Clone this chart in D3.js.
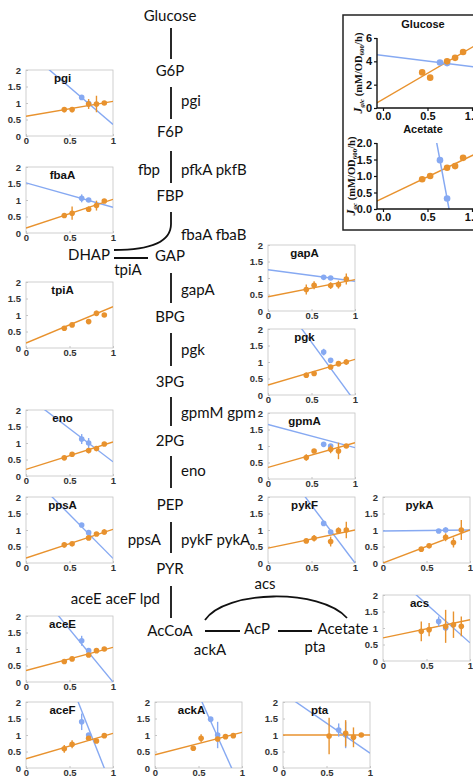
<!DOCTYPE html>
<html><head><meta charset="utf-8">
<script src="https://cdn.jsdelivr.net/npm/d3@7"></script>
<style>body{margin:0;background:#fff} svg{display:block}</style>
</head><body>
<svg id="c" width="473" height="779"></svg>
<script>
// ---------------- DATA ----------------
const xTickVals = [0, 0.5, 1];
const yTickVals = [0, 0.5, 1, 1.5, 2];
const xOrange = [0.44, 0.53, 0.72, 0.81, 0.9];
const xBlue = [0.64, 0.72];

const panelNames = ["pgi","fbaA","tpiA","eno","ppsA","aceE","aceF","gapA","pgk","gpmA","pykF","pykA","acs","ackA","pta"];
// fitted lines: [value at x=0, value at x=1]
const orangeFit = [[0.60,1.05],[0.15,1.02],[0.15,1.25],[0.20,1.03],[0.15,1.02],[0.35,1.05],[0.28,1.05],
  [0.43,0.95],[0.30,1.08],[0.35,1.10],[0.45,1.00],[0.00,1.00],[0.70,1.25],[0.40,1.08],[1.00,1.00]];
const blueFit = [[2.61,0.35],[1.52,0.78],null,[2.44,0.43],[2.8,0.14],[3.2,0.0],[6.0,-0.67],
  [1.25,0.90],[3.4,-0.2],[1.65,0.95],[3.5,0.0],[0.97,1.0],[2.9,0.55],[5.17,-0.7],[2.27,0.45]];
const orangeY = [[0.80,0.80,0.97,0.97,1.00],[0.53,0.60,0.72,0.83,0.97],[0.60,0.70,0.80,1.05,1.00],
  [0.55,0.66,0.77,0.83,0.97],[0.55,0.58,0.76,0.88,0.94],[0.62,0.70,0.82,0.95,1.00],[0.58,0.72,0.90,0.82,0.98],
  [0.65,0.78,0.77,0.80,0.97],[0.60,0.65,0.85,0.95,1.00],[0.65,0.85,0.90,0.85,1.00],[0.67,0.75,0.65,0.98,1.00],
  [0.42,0.52,0.78,0.62,1.00],[0.90,0.95,1.05,1.10,1.05],[0.60,0.90,0.88,0.95,0.98],[null,0.97,1.05,0.93,1.00]];
const orangeErr = [[0.08,0.08,0.15,0.25,0.05],[0.03,0.20,0.08,0.15,0.05],[0.05,0.05,0.05,0.08,0.05],
  [0.05,0.05,0.08,0.05,0.06],[0.08,0.05,0.05,0.05,0.08],[0.06,0.05,0.05,0.05,0.05],[0.12,0.12,0.06,0.05,0.05],
  [0.15,0.12,0.10,0.12,0.17],[0.08,0.06,0.06,0.08,0.08],[0.10,0.05,0.12,0.25,0.05],[0.05,0.10,0.15,0.10,0.25],
  [0.03,0.03,0.12,0.15,0.30],[0.30,0.20,0.50,0.40,0.30],[0.05,0.12,0.06,0.04,0.06],[0,0.55,0.40,0.30,0.03]];
const blueY = [[1.17,0.98],[1.05,1.00],null,[1.12,1.00],[1.15,0.92],[1.25,0.95],[1.40,1.00],
  [1.02,1.00],[1.30,1.05],[1.05,1.00],[1.20,0.94],[0.97,1.00],[1.20,1.00],[1.48,1.00],[1.15,1.00]];
const blueErr = [[0.05,0.05],[0.12,0.05],null,[0.15,0.15],[0.06,0.05],[0.15,0.06],[0.25,0.05],
  [0.06,0.05],[0.10,0.05],[0.05,0.05],[0.05,0.05],[0.06,0.08],[0.15,0.10],[0.05,0.40],[0.20,0.40]];

// inset data
const glcOrangeY = [3.05, 2.6, 4.0, 4.3, 4.8];
const glcBlueY = [3.9, 3.85];
const glcOrangeFit = [0.75, 5.2];
const glcBlueFit = [4.5, 3.55];
const glcYTicks = [0, 2, 4, 6];
const acOrangeY = [0.9, 1.0, 1.25, 1.3, 1.55];
const acBlueY = [1.48, 0.32];
const acOrangeFit = [0.33, 1.62];
const acBlueFit = [10.76, -3.74];
const acYTicks = [0, 0.5, 1.0, 1.5, 2.0];
const insetXTicks = [0, 0.5, 1.0];

// pathway labels
const metabolites = ["Glucose","G6P","F6P","FBP","GAP","BPG","3PG","2PG","PEP","PYR","AcCoA"];
const enzymesRight = ["pgi","pfkA pkfB","fbaA fbaB","gapA","pgk","gpmM gpm","eno","pykF pykA"];

// ---------------- LAYOUT ----------------
const ORANGE = "#E8922E", BLUE = "#86A9F2";
const svg = d3.select("#c");
const PW = 87, PH = 66;
const panelPos = {pgi:[26,70],fbaA:[26,167],tpiA:[26,282],eno:[26,410],ppsA:[26,497],aceE:[26,616],aceF:[26,702],
  gapA:[268,245],pgk:[268,329],gpmA:[268,413],pykF:[268,497],pykA:[383,497],acs:[383,595],ackA:[155,702],pta:[283,702]};

panelNames.forEach((name, i) => {
  const [px, py] = panelPos[name];
  const g = svg.append("g").attr("transform", `translate(${px},${py})`);
  const x = d3.scaleLinear().domain([0,1]).range([0,PW]);
  const y = d3.scaleLinear().domain([0,2]).range([PH,0]);
  const cid = "clip" + i;
  g.append("clipPath").attr("id", cid).append("rect").attr("width", PW).attr("height", PH);
  g.append("rect").attr("width", PW).attr("height", PH).attr("fill","#fff").attr("stroke","#c4c4c4").attr("stroke-width",0.8);
  const ax = g.append("g").attr("transform",`translate(0,${PH})`).call(d3.axisBottom(x).tickValues(xTickVals).tickSizeInner(-2).tickSizeOuter(0).tickPadding(1.5).tickFormat(d3.format("")));
  const ay = g.append("g").call(d3.axisLeft(y).tickValues(yTickVals).tickSizeInner(-2).tickSizeOuter(0).tickPadding(5).tickFormat(d3.format("")));
  [ax, ay].forEach(a => {
    a.select(".domain").remove();
    a.selectAll("line").attr("stroke","#c4c4c4");
    a.selectAll("text").attr("font-family","Liberation Sans, Arial").attr("font-weight","bold").attr("font-size","9.5px").attr("fill","#333");
  });
  const pl = g.append("g").attr("clip-path",`url(#${cid})`);
  const line = d3.line().x(d => x(d[0])).y(d => y(d[1]));
  const bf = blueFit[i], of = orangeFit[i];
  if (bf) pl.append("path").attr("d", line([[0,bf[0]],[1,bf[1]]])).attr("stroke",BLUE).attr("stroke-width",1.4).attr("fill","none");
  pl.append("path").attr("d", line([[0,of[0]],[1,of[1]]])).attr("stroke",ORANGE).attr("stroke-width",1.4).attr("fill","none");
  const drawPts = (xs, ys, es, col) => {
    xs.forEach((xv, k) => {
      const yv = ys[k]; if (yv == null) return;
      const e = es[k];
      g.append("line").attr("x1",x(xv)).attr("x2",x(xv)).attr("y1",y(yv-e)).attr("y2",y(yv+e)).attr("stroke",col).attr("stroke-width",1.4);
      g.append("circle").attr("cx",x(xv)).attr("cy",y(yv)).attr("r",2.8).attr("fill",col);
    });
  };
  if (blueY[i]) drawPts(xBlue, blueY[i], blueErr[i], BLUE);
  drawPts(xOrange, orangeY[i], orangeErr[i], ORANGE);
  g.append("text").attr("x", PW*0.42).attr("y", 11.5).attr("text-anchor","middle")
    .attr("font-family","Liberation Sans, Arial").attr("font-weight","bold").attr("font-size","11.5px").attr("fill","#111").text(name);
});

// ---------------- PATHWAY ----------------
const F = "Lato, 'Open Sans', sans-serif";
const pt = (t, x, y, anchor="middle") => svg.append("text").attr("x",x).attr("y",y).attr("text-anchor",anchor)
  .attr("font-family",F).attr("font-size","15px").attr("fill","#111").attr("dominant-baseline","middle").text(t);
const metY = [17,72,133,197,257,318,383,442,506,570,632];
metabolites.forEach((m,k) => pt(m, 170, metY[k]));
const segs = [[28,59],[87,119],[151,183],[273,303],[333,366],[397,426],[456,488],[522,553],[586,618]];
segs.forEach(s => svg.append("line").attr("x1",171).attr("x2",171).attr("y1",s[0]).attr("y2",s[1]).attr("stroke","#111").attr("stroke-width",1.8));
const rY = [102,171,236,291,351,414,472,541];
enzymesRight.forEach((e,k) => pt(e, 181, rY[k], "start"));
pt("fbp", 160, 171, "end");
pt("ppsA", 161, 541, "end");
pt("aceE aceF lpd", 160, 600, "end");
svg.append("path").attr("d","M171,212 L171,224 Q171,250 114,250").attr("fill","none").attr("stroke","#111").attr("stroke-width",1.8);
pt("DHAP", 89, 256);
svg.append("line").attr("x1",114).attr("x2",148).attr("y1",258).attr("y2",258).attr("stroke","#111").attr("stroke-width",1.8);
pt("tpiA", 128, 271);
pt("AcP", 257, 630);
pt("Acetate", 343, 630);
svg.append("line").attr("x1",205).attr("x2",240).attr("y1",631).attr("y2",631).attr("stroke","#111").attr("stroke-width",1.8);
svg.append("line").attr("x1",278).attr("x2",312).attr("y1",631).attr("y2",631).attr("stroke","#111").attr("stroke-width",1.8);
pt("ackA", 210, 651);
pt("pta", 315, 648);
pt("acs", 265, 585);
svg.append("path").attr("d","M205,620 C225,590 320,588 347,618").attr("fill","none").attr("stroke","#111").attr("stroke-width",1.8);

// ---------------- INSET ----------------
svg.append("rect").attr("x",343).attr("y",15).attr("width",140).attr("height",215).attr("fill","none").attr("stroke","#222").attr("stroke-width",1.5);
function inset(top, bottom, ymax, yTicks, fmt, oY, bY, oFit, bFit, title, labelSub, labelX) {
  const x = d3.scaleLinear().domain([0,1]).range([383,472]);
  const y = d3.scaleLinear().domain([0,ymax]).range([bottom, top]);
  const g = svg.append("g");
  const cid = "ic" + title;
  g.append("clipPath").attr("id",cid).append("rect").attr("x",377).attr("y",top).attr("width",96).attr("height",bottom-top);
  const pl = g.append("g").attr("clip-path",`url(#${cid})`);
  const line = d3.line().x(d => x(d[0])).y(d => y(d[1]));
  const fitPts = f => [[-0.07, f[0] + (f[1]-f[0])*-0.07],[1.05, f[0] + (f[1]-f[0])*1.05]];
  pl.append("path").attr("d", line(fitPts(oFit))).attr("stroke",ORANGE).attr("stroke-width",1.5).attr("fill","none");
  pl.append("path").attr("d", line(fitPts(bFit))).attr("stroke",BLUE).attr("stroke-width",1.5).attr("fill","none");
  xBlue.forEach((xv,k) => g.append("circle").attr("cx",x(xv)).attr("cy",y(bY[k])).attr("r",3.3).attr("fill",BLUE));
  xOrange.forEach((xv,k) => g.append("circle").attr("cx",x(xv)).attr("cy",y(oY[k])).attr("r",3.3).attr("fill",ORANGE));
  const ay = g.append("g").attr("transform","translate(377,0)").call(d3.axisLeft(y).tickValues(yTicks).tickSize(3).tickPadding(2).tickFormat(fmt));
  const ax = g.append("g").attr("transform",`translate(0,${bottom})`).call(d3.axisBottom(x).tickValues(insetXTicks).tickSize(3).tickPadding(1).tickFormat(d3.format(".1f")));
  [ax, ay].forEach(a => {
    a.select(".domain").attr("stroke","#111").attr("stroke-width",1.4);
    a.selectAll("line").attr("stroke","#111").attr("stroke-width",1.2);
    a.selectAll("text").attr("font-family","Liberation Sans, Arial").attr("font-weight","bold").attr("font-size","11px").attr("fill","#111");
  });
  ax.select(".domain").attr("d", `M377,0H473`);
  ay.select(".domain").attr("d", `M0,${bottom}V${top}`);
  svg.append("text").attr("x",423).attr("y",top-10).attr("text-anchor","middle").attr("font-family","Liberation Sans, Arial")
    .attr("font-weight","bold").attr("font-size","11px").attr("fill","#111").text(title);
  const cy = (top+bottom)/2;
  const t = svg.append("text").attr("transform",`translate(${labelX},${cy}) rotate(-90)`).attr("text-anchor","middle")
    .attr("font-family","Liberation Serif, serif").attr("font-weight","bold").attr("font-size","10.5px").attr("fill","#111");
  t.append("tspan").attr("font-style","italic").attr("font-size","12px").text("J");
  t.append("tspan").attr("font-style","italic").attr("font-size","7px").attr("dy",2).text(labelSub);
  t.append("tspan").attr("dy",-2).text(" (mM/OD");
  t.append("tspan").attr("font-size","7px").attr("dy",2).text("600");
  t.append("tspan").attr("dy",-2).text("/h)");
}
inset(38, 108, 6, glcYTicks, d3.format("d"), glcOrangeY, glcBlueY, glcOrangeFit, glcBlueFit, "Glucose", "glc", 362);
inset(143, 209, 2, acYTicks, d3.format(".1f"), acOrangeY, acBlueY, acOrangeFit, acBlueFit, "Acetate", "ac", 355);
</script>
</body></html>
